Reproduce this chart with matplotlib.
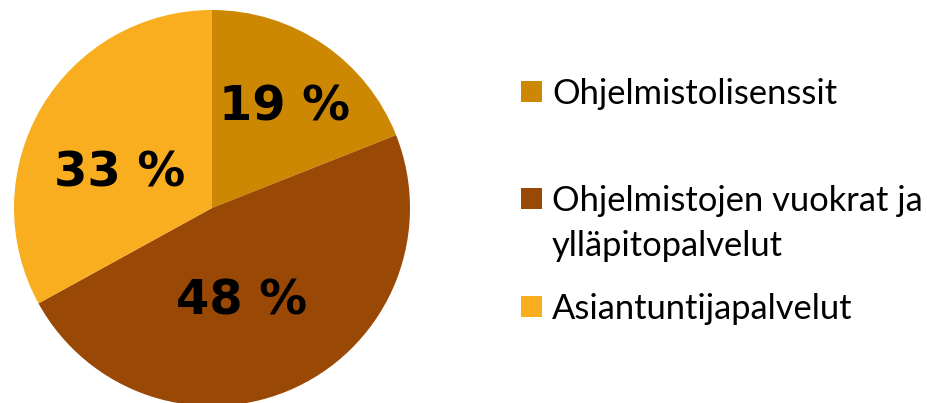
import numpy as np
import matplotlib
matplotlib.use('Agg')
import matplotlib.pyplot as plt
from matplotlib.patches import Rectangle

# data
categories = ['Ohjelmistolisenssit', 'Ohjelmistojen vuokrat ja\nylläpitopalvelut', 'Asiantuntijapalvelut']
shares = [19, 48, 33]
colors = ['#CC8802', '#9A4806', '#F9AE20']

W, H = 928, 403
fig = plt.figure(figsize=(W / 100, H / 100), dpi=100)

# pie axes, placed in pixels: centre (212, 208 from top), radius 198
cx, cy, r = 212, H - 208, 198
ax = fig.add_axes([(cx - r) / W, (cy - r) / H, 2 * r / W, 2 * r / H])
wedges, _ = ax.pie(shares, colors=colors, startangle=90, counterclock=False,
                   radius=1, wedgeprops=dict(linewidth=0))
ax.set_xlim(-1, 1)
ax.set_ylim(-1, 1)
ax.set_aspect('equal')
ax.axis('off')

# percentage labels, a bit off the wedge midline like the original
label_dist = [0.65, 0.47, 0.51]
label_rot = [0, -7, 7]
for w, v, d, rot in zip(wedges, shares, label_dist, label_rot):
    th = np.deg2rad((w.theta1 + w.theta2) / 2 + rot)
    ax.text(d * np.cos(th), d * np.sin(th) - 0.025, f'{v} %', ha='center', va='center',
            fontsize=34.5, fontweight='bold', family='DejaVu Sans', color='black')

# legend drawn by hand so the square sits on the first line of the wrapped label
lax = fig.add_axes([0, 0, 1, 1])
lax.set_xlim(0, W)
lax.set_ylim(H, 0)
lax.axis('off')
leg_y = [91, 198, 306]
line_h = 45
for cat, col, y in zip(categories, colors, leg_y):
    lax.add_patch(Rectangle((521, y - 10.5), 21, 21, facecolor=col, edgecolor='none'))
    for i, line in enumerate(cat.split('\n')):
        lax.text(552, y + i * line_h, line, ha='left', va='center_baseline', fontsize=24.8,
                 family='Lato', color='black')

fig.savefig('out.png', dpi=100)
